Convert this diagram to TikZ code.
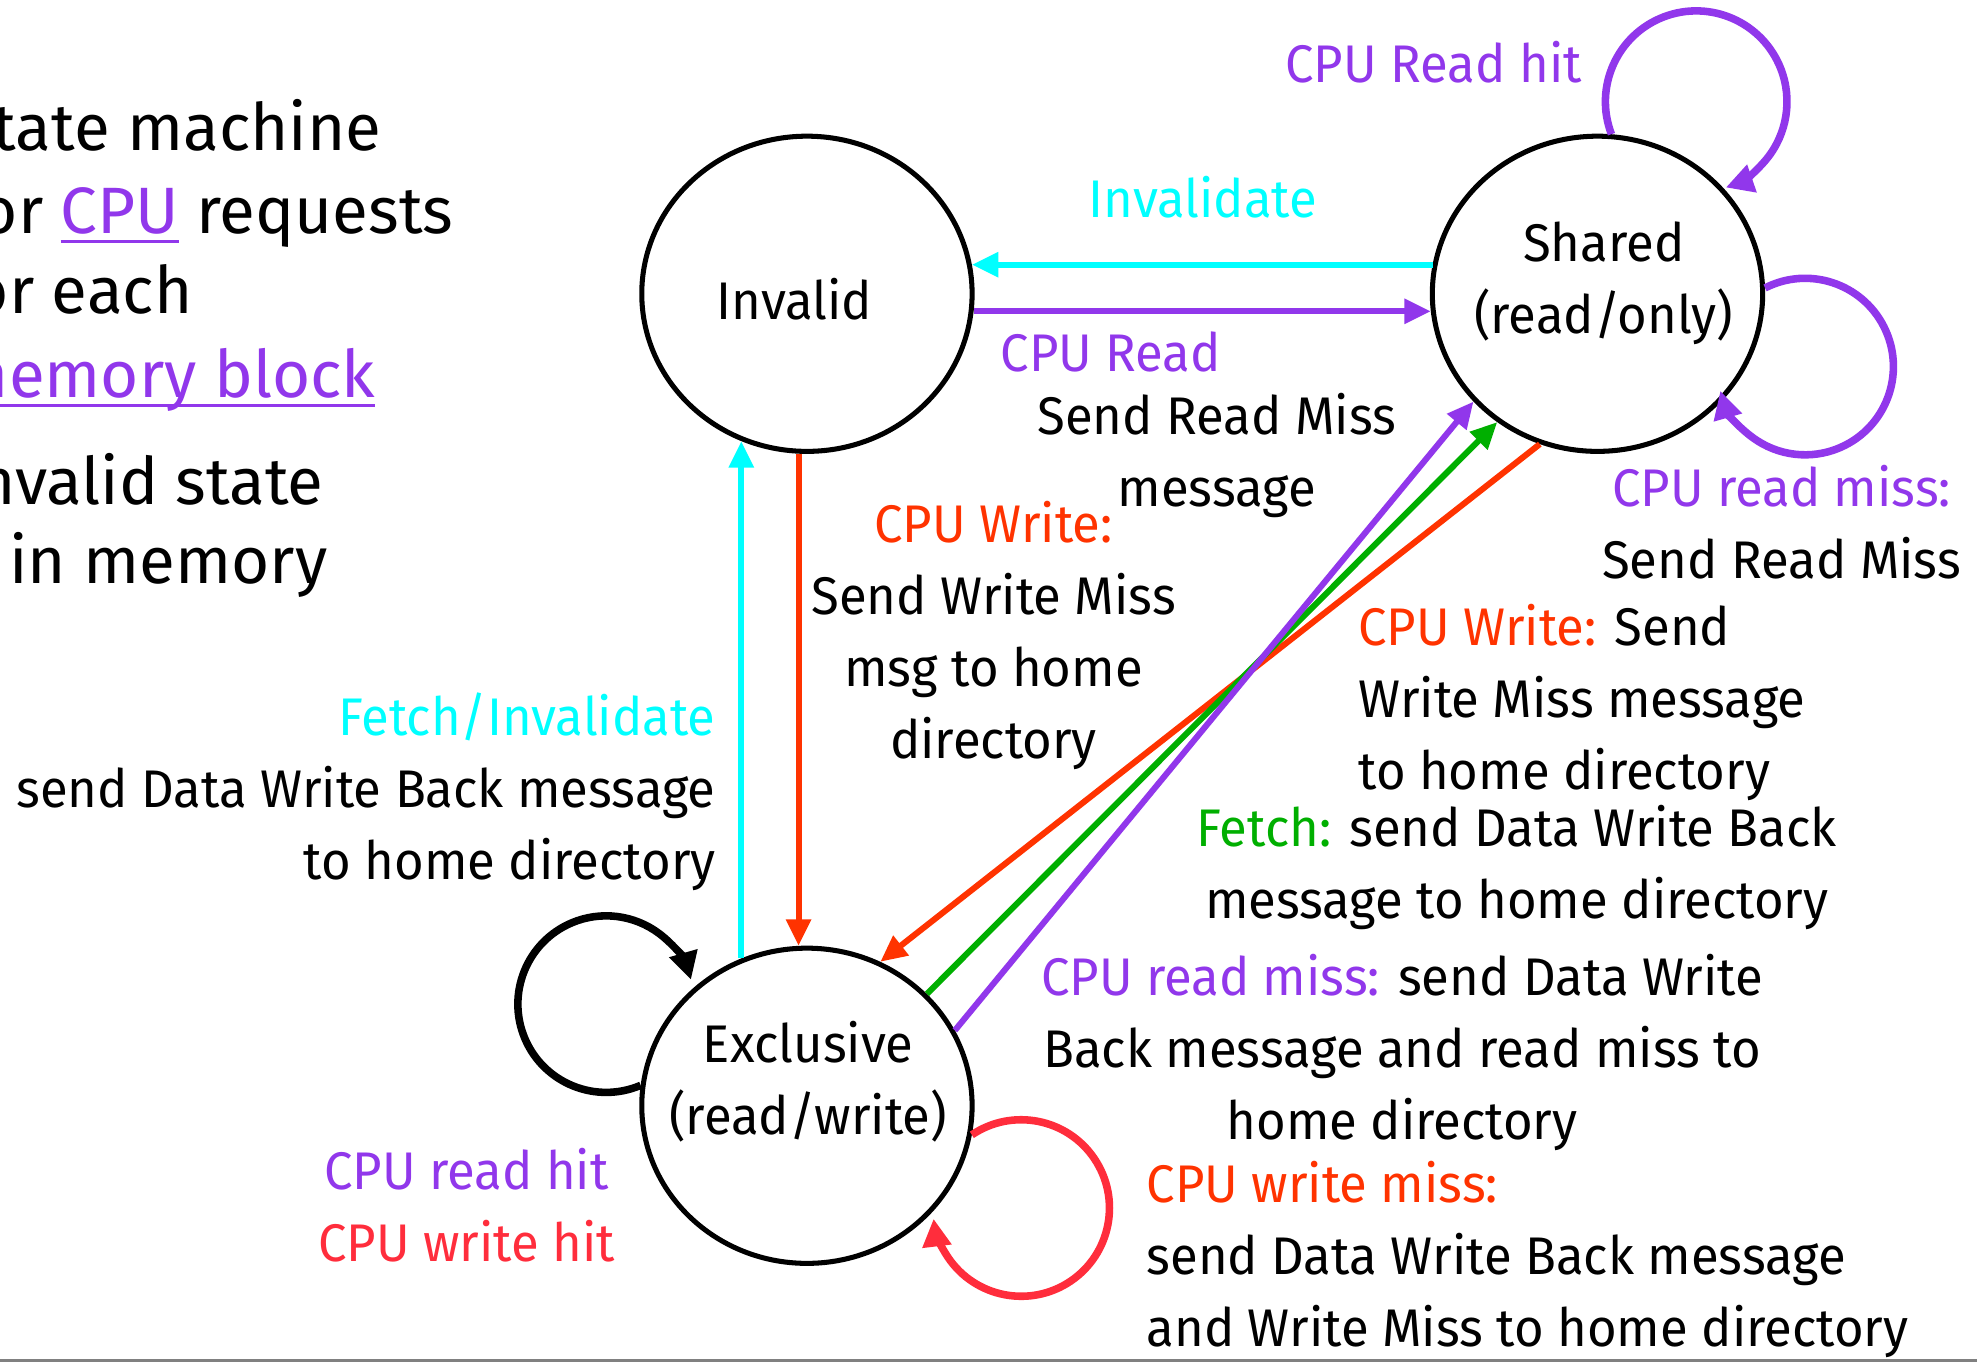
\documentclass[tikz,border=0pt]{standalone}
\usepackage{fontspec}
\setmainfont{Fira Sans}
\newfontfamily\lblfont{Fira Sans}[FakeStretch=0.96]
\usetikzlibrary{shapes.geometric,arrows.meta}
\definecolor{cpurple}{RGB}{145,55,235}
\definecolor{ccyan}{RGB}{0,255,255}
\definecolor{cred}{RGB}{255,51,0}
\definecolor{cpink}{RGB}{255,45,60}
\definecolor{cgreen}{RGB}{0,175,0}
\newcommand\myul[1]{\leavevmode\setbox0\hbox{#1}\rlap{\rule[-4pt]{\wd0}{1.2pt}}\box0}
\begin{document}
\begin{tikzpicture}[x=0.5pt,y=0.5pt,
  state/.style={ellipse, draw, line width=2pt, minimum width=131pt, minimum height=125pt, inner sep=0pt},
  lbl/.style={inner sep=0pt, align=center, font=\lblfont\fontsize{21}{28.5}\selectfont},
  big/.style={inner sep=0pt, anchor=base east, font=\fontsize{26}{32.5}\selectfont},
  arr/.style={line width=2.4pt, -{Triangle[length=10.5pt,width=9.5pt]}},
  selfloop/.style={line width=3pt, -{Triangle[length=11pt,width=11pt]}},
]
\useasboundingbox (0,0) rectangle (1568,-1081);
\fill[white] (0,0) rectangle (1568,-1081);

% left text (clipped at the left edge, as in the reference)
\begin{scope}
\clip (0,0) rectangle (1568,-1081);
\node[big] (t1) at (303,-119) {State machine};
\node[big] (t2) at (360,-185) {for \textcolor{cpurple}{\myul{CPU}} requests};
\node[big] (t3) at (153,-249) {for each};
\node[big] (t4) at (298,-315) {\textcolor{cpurple}{\myul{memory block}}};
\node[big] (t5) at (257,-400) {Invalid state};
\node[big] (t6) at (260,-463) {if in memory};
\end{scope}

% states
\node[state] (I) at (640,-233) {};
\node[state] (S) at (1267,-233) {};
\node[state] (E) at (640,-877) {};
\node[lbl] (It) at (630,-237) {Invalid};
\node[lbl] (St) at (1272,-225) {Shared\\(read/only)};
\node[lbl] (Et) at (641,-858) {Exclusive\\(read/write)};

% straight transitions
\draw[arr, ccyan] (S.170) -- (I.10);
\draw[arr, cpurple] (I.-6) -- (S.186);
\draw[arr, cred] (I.267) -- (I.267 |- E.93);
\draw[arr, ccyan] (E.114) -- (E.114 |- I.246);
\draw[arr, cred] (S.249) -- (E.63);
\draw[arr, cgreen] (E.43) -- (S.232);
\draw[arr, cpurple] (E.27) -- (S.221);

% self loops
\draw[selfloop, cpurple] (S.85) arc[start angle=201, end angle=-71, radius=72];
\draw[selfloop, cpurple] (S.2) arc[start angle=117, end angle=-164, radius=70];
\draw[selfloop, black] (E.173) arc[start angle=293, end angle=16, radius=70];
\draw[selfloop, cpink] (E.-10) arc[start angle=124, end angle=-173, radius=70];

% labels
\node[lbl, cpurple] (lRH) at (1137,-49) {CPU Read hit};
\node[lbl, ccyan] (lInv) at (954,-156) {Invalidate};
\node[lbl, cpurple] (lCR) at (881,-279) {CPU Read};
\node[lbl] (lSRM) at (965,-361) {Send Read Miss\\message};
\node[lbl] (lCW) at (788,-504) {\textcolor{cred}{CPU Write:}\\Send Write Miss\\msg to home\\directory};
\node[lbl, align=right, anchor=east] (lFI) at (568,-628) {\textcolor{ccyan}{Fetch/Invalidate}\\send Data Write Back message\\to home directory};
\node[lbl] (lSRM2) at (1413,-414) {\textcolor{cpurple}{CPU read miss:}\\Send Read Miss};
\node[lbl, align=left, anchor=west] (lCWS) at (1077,-557) {\textcolor{cred}{CPU Write:} Send\\Write Miss message\\to home directory};
\node[lbl] (lF) at (1203,-688) {\textcolor{cgreen}{Fetch:} send Data Write Back\\message to home directory};
\node[lbl] (lCRM) at (1112,-835) {\textcolor{cpurple}{CPU read miss:} send Data Write\\Back message and read miss to\\home directory};
\node[lbl, align=left, anchor=west] (lCWM) at (909,-999) {\textcolor{cred}{CPU write miss:}\\send Data Write Back message\\and Write Miss to home directory};
\node[lbl] (lHit) at (370,-956) {\textcolor{cpurple}{CPU read hit}\\\textcolor{cpink}{CPU write hit}};

% bottom rule
\draw[gray, line width=1pt] (0,-1079) -- (1568,-1079);
\end{tikzpicture}
\end{document}
